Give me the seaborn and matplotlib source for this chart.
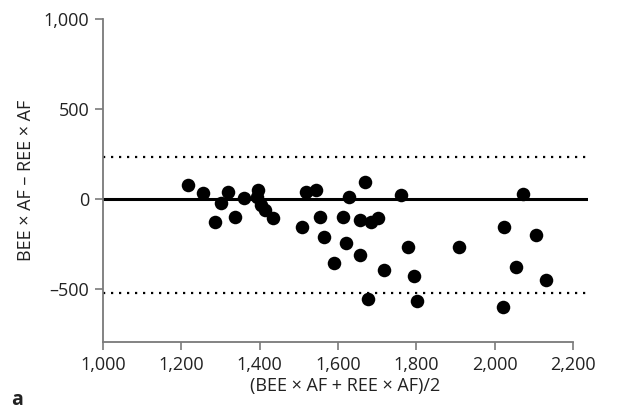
import numpy as np
import pandas as pd
import seaborn as sns
import matplotlib
matplotlib.use("Agg")
import matplotlib.pyplot as plt
from matplotlib.ticker import FuncFormatter

# Bland-Altman: srednia vs roznica
srednia = [1217, 1254, 1285, 1300, 1319, 1336, 1359, 1396, 1393, 1404,
           1413, 1434, 1508, 1518, 1544, 1553, 1563, 1590, 1613, 1621,
           1628, 1656, 1656, 1668, 1677, 1685, 1701, 1718, 1761, 1778,
           1793, 1801, 1908, 2022, 2024, 2054, 2073, 2105, 2130]
roznica = [78, 35, -126, -24, 41, -98, 4, 50, 13, -33,
           -61, -104, -157, 38, 48, -98, -213, -358, -98, -246,
           9, -117, -313, 96, -555, -126, -107, -394, 22, -266,
           -426, -570, -265, -598, -154, -376, 26, -200, -450]
linia_srednia = 0
granice = [232, -522]

x_ticks = [1000, 1200, 1400, 1600, 1800, 2000, 2200]
y_ticks = [-500, 0, 500, 1000]

df = pd.DataFrame({"srednia": srednia, "roznica": roznica})

sns.set_style("white")
plt.rcParams["font.family"] = ["Open Sans", "DejaVu Sans"]

fig = plt.figure(figsize=(6.18, 4.13), dpi=100)
ax = fig.add_axes([0.1667, 0.172, 0.784, 0.782])

ax.axhline(linia_srednia, color="black", lw=2.2, zorder=1)
for g in granice:
    ax.axhline(g, color="black", lw=1.6, ls=(0, (1, 2.6)), zorder=1)

sns.scatterplot(data=df, x="srednia", y="roznica", ax=ax, s=95,
                color="black", edgecolor="black", linewidth=0, zorder=3)

ax.set_xlim(1000, 2237)
ax.set_ylim(-795, 1000)
ax.set_xticks(x_ticks)
ax.set_yticks(y_ticks)

fmt = FuncFormatter(lambda v, p: f"{v:,.0f}".replace("-", "\u2013"))
ax.xaxis.set_major_formatter(fmt)
ax.yaxis.set_major_formatter(fmt)

for s in ["top", "right"]:
    ax.spines[s].set_visible(False)
for s in ["left", "bottom"]:
    ax.spines[s].set_color("#7a7a7a")
    ax.spines[s].set_linewidth(1.3)
ax.spines["bottom"].set_bounds(1000, 2200)

ax.tick_params(axis="both", direction="out", length=6, width=1.2,
               color="#7a7a7a", labelsize=13, labelcolor="#222222", pad=4,
               bottom=True, left=True)

ax.set_xlabel("(BEE \u00d7 AF + REE \u00d7 AF)/2", fontsize=13, color="#222222", labelpad=2)
ax.set_ylabel("BEE \u00d7 AF \u2013 REE \u00d7 AF", fontsize=13, color="#222222", labelpad=6)

fig.text(0.018, 0.02, "a", fontsize=14, fontweight="bold", color="#222222")

fig.savefig("out.png", dpi=100)
